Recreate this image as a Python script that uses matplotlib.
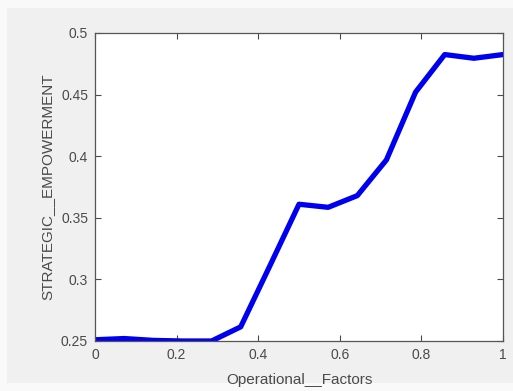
import matplotlib
matplotlib.use('Agg')
import matplotlib.pyplot as plt
from matplotlib.patches import Rectangle
import numpy as np

# values (15 points, step 1/14)
x_vals = np.linspace(0, 1, 15)
y_vals = [0.251, 0.252, 0.2505, 0.250, 0.250, 0.2615, 0.311, 0.361,
          0.3585, 0.368, 0.397, 0.452, 0.4825, 0.4795, 0.4825]
x_ticks = [0, 0.2, 0.4, 0.6, 0.8, 1]
x_ticklabels = ['0', '0.2', '0.4', '0.6', '0.8', '1']
y_ticks = [0.25, 0.3, 0.35, 0.4, 0.45, 0.5]
y_ticklabels = ['0.25', '0.3', '0.35', '0.4', '0.45', '0.5']

plt.rcParams['font.family'] = ['Liberation Sans', 'DejaVu Sans']

fig = plt.figure(figsize=(5.13, 3.91), dpi=100, facecolor='#f9f9f9')
# grey window area inside a thin lighter border
fig.add_artist(Rectangle((7 / 513, 8 / 391), 506 / 513, 375 / 391,
                         transform=fig.transFigure, facecolor='#f0f0f0',
                         edgecolor='none', zorder=-10))

ax = fig.add_axes([95 / 513, 50 / 391, 408 / 513, 308 / 391])
ax.set_facecolor('white')
ax.plot(x_vals, y_vals, color='#0000f0', linewidth=3.8, solid_joinstyle='round')

ax.set_xlim(0, 1)
ax.set_ylim(0.25, 0.5)
ax.set_xticks(x_ticks)
ax.set_xticklabels(x_ticklabels)
ax.set_yticks(y_ticks)
ax.set_yticklabels(y_ticklabels)
ax.tick_params(direction='in', top=True, right=True, length=4, width=0.8,
               colors='#4a4a4a', labelsize=10, pad=5)
for s in ax.spines.values():
    s.set_color('#555555')
    s.set_linewidth(0.9)

ax.set_xlabel('Operational__Factors', fontsize=11, color='#4a4a4a', labelpad=8)
ax.set_ylabel('STRATEGIC__EMPOWERMENT', fontsize=11, color='#4a4a4a', labelpad=5)

fig.savefig('out.png', dpi=100, facecolor=fig.get_facecolor())
